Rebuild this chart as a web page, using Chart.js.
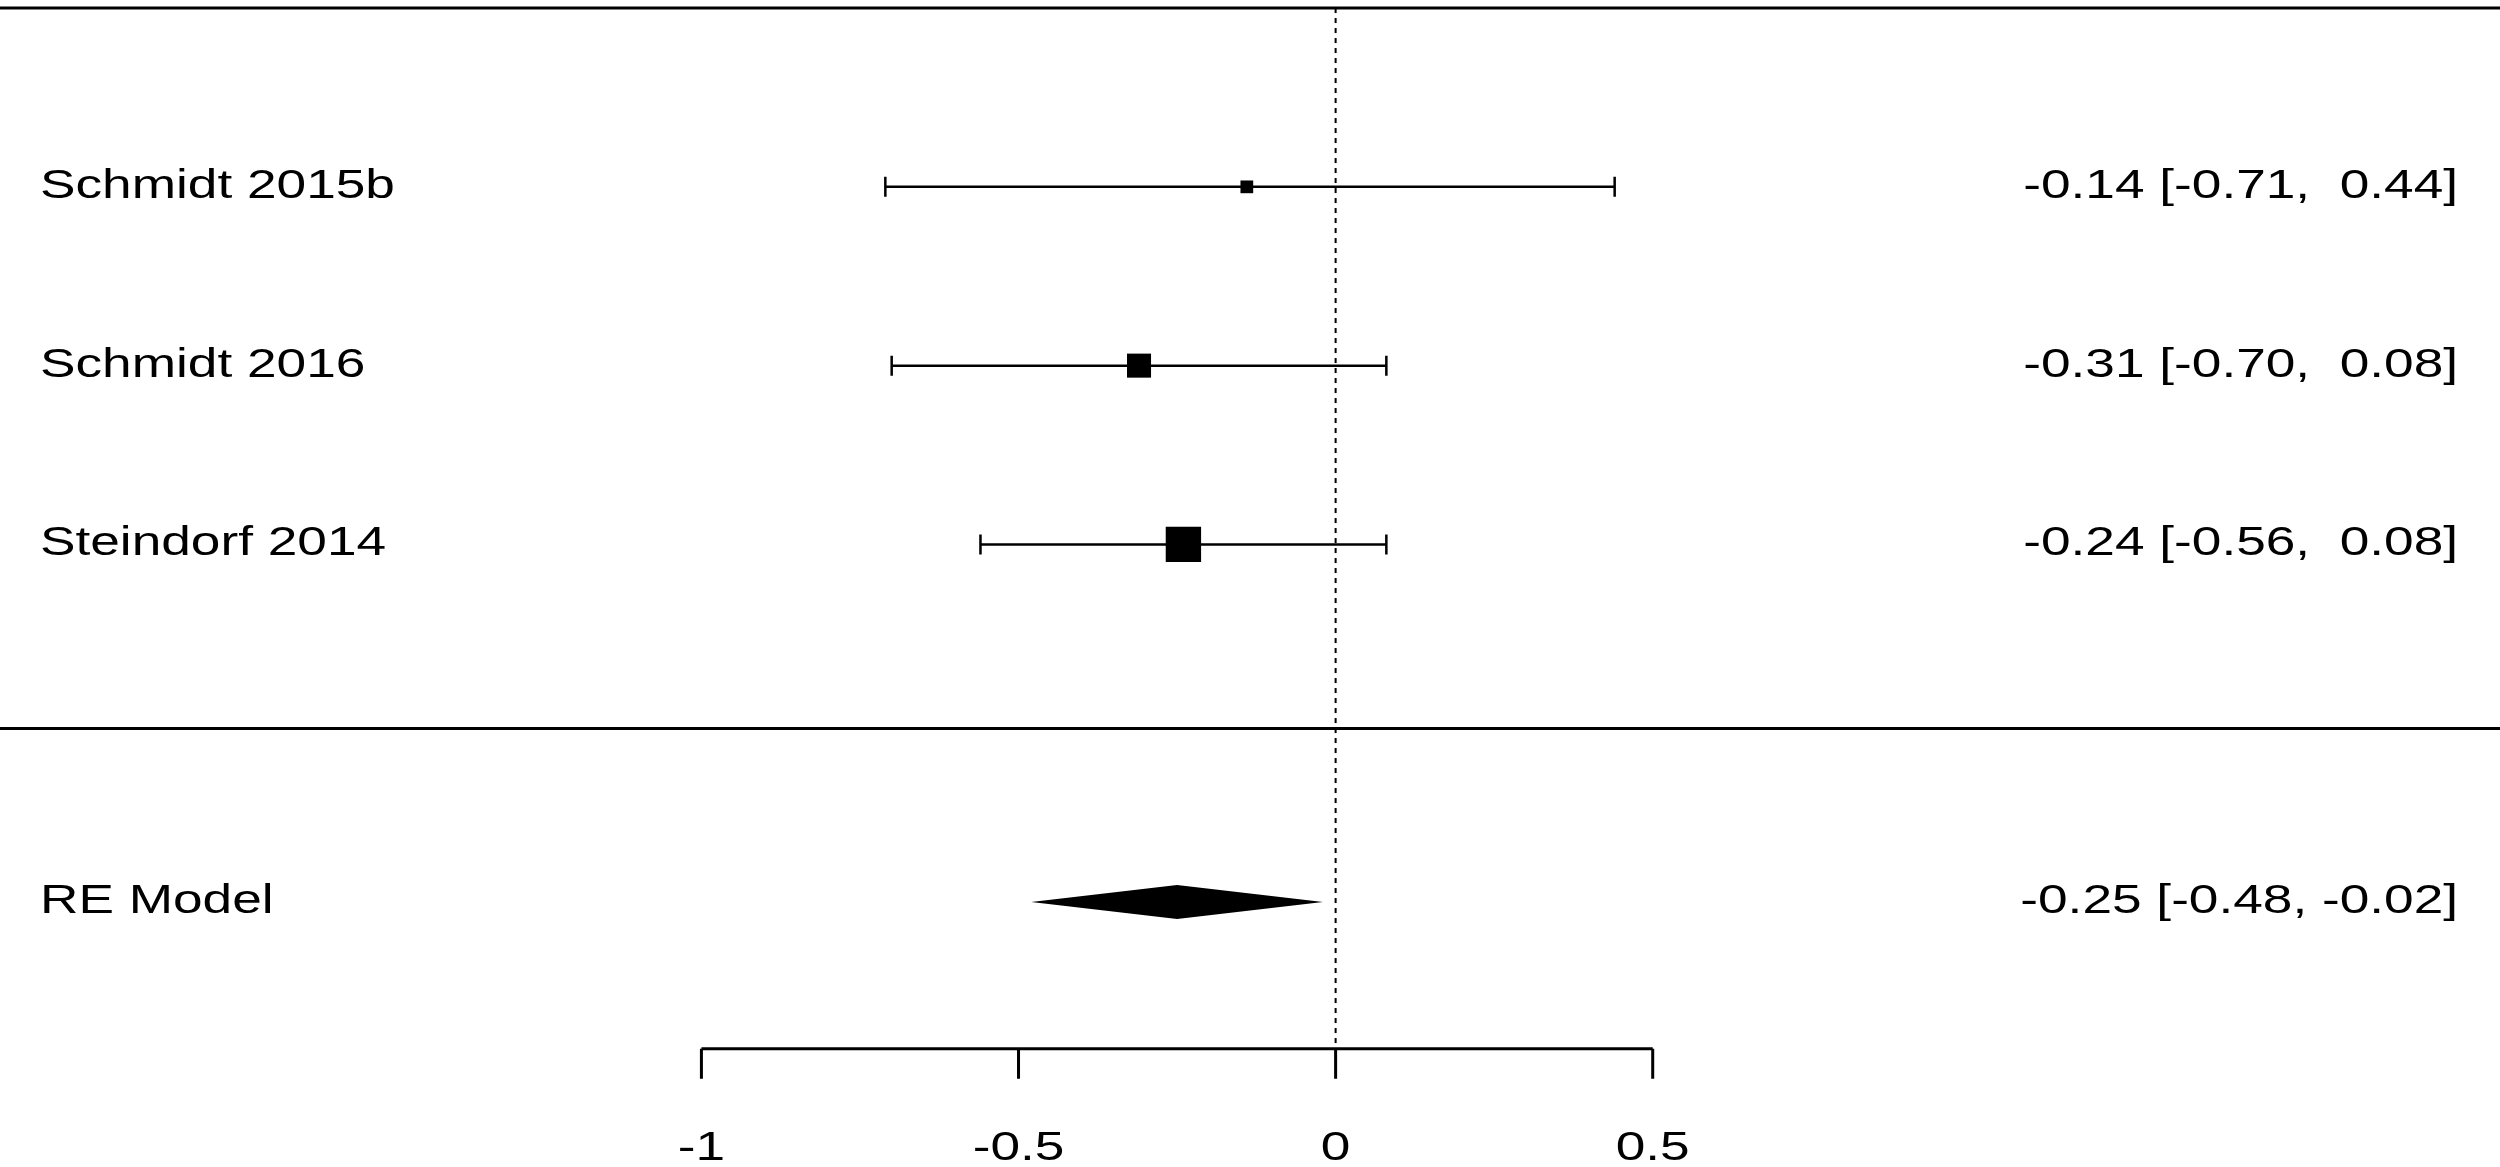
<!DOCTYPE html>
<html><head><meta charset="utf-8">
<script src="https://cdn.jsdelivr.net/npm/chart.js@4"></script>
<style>html,body{margin:0;padding:0;background:#fff}#w{width:2500px;height:1167px}</style>
</head><body><div id="w"><canvas id="c"></canvas></div>
<script>
const studies = ["Schmidt 2015b", "Schmidt 2016", "Steindorf 2014"];
const estimates = [-0.14, -0.31, -0.24];
const lower = [-0.71, -0.70, -0.56];
const upper = [0.44, 0.08, 0.08];
const weights = [9, 17, 25];
const rows = [0, 1, 2];
const model = {label: "RE Model", est: -0.25, lo: -0.48, hi: -0.02, row: 4};
const tickValues = [-1, -0.5, 0, 0.5];
const tickLabels = ["-1", "-0.5", "0", "0.5"];
const fmt = v => (v < 0 ? "-" : " ") + Math.abs(v).toFixed(2);
const ci = (e, l, h) => `${fmt(e).trim()} [${fmt(l)}, ${fmt(h)}]`;
const SX = 1.33;

function txt(ctx, s, px, py, align) {
  ctx.save();
  ctx.translate(px, py); ctx.scale(SX, 1);
  ctx.textAlign = align; ctx.fillText(s, 0, 0);
  ctx.restore();
}

const forest = {
  id: 'forest',
  afterDatasetsDraw(chart) {
    const ctx = chart.ctx, x = chart.scales.x, y = chart.scales.y;
    const W = chart.width;
    ctx.save();
    ctx.strokeStyle = '#000'; ctx.fillStyle = '#000';
    ctx.lineWidth = 3;
    [-1, 3.03].forEach(r => { const py = y.getPixelForValue(r); ctx.beginPath(); ctx.moveTo(0, py); ctx.lineTo(W, py); ctx.stroke(); });
    ctx.lineWidth = 2; ctx.setLineDash([5, 5]);
    ctx.beginPath(); ctx.moveTo(x.getPixelForValue(0), y.getPixelForValue(-1)); ctx.lineTo(x.getPixelForValue(0), y.getPixelForValue(4.82)); ctx.stroke();
    ctx.setLineDash([]);
    ctx.lineWidth = 2.5;
    rows.forEach((r, i) => {
      const py = y.getPixelForValue(r), a = x.getPixelForValue(lower[i]), b = x.getPixelForValue(upper[i]);
      ctx.beginPath(); ctx.moveTo(a, py); ctx.lineTo(b, py);
      ctx.moveTo(a, py - 10); ctx.lineTo(a, py + 10); ctx.moveTo(b, py - 10); ctx.lineTo(b, py + 10); ctx.stroke();
    });
    const my = y.getPixelForValue(model.row);
    ctx.beginPath();
    ctx.moveTo(x.getPixelForValue(model.lo), my);
    ctx.lineTo(x.getPixelForValue(model.est), my - 17);
    ctx.lineTo(x.getPixelForValue(model.hi), my);
    ctx.lineTo(x.getPixelForValue(model.est), my + 17);
    ctx.closePath(); ctx.fill();
    const ay = y.getPixelForValue(4.82);
    ctx.lineWidth = 3;
    ctx.beginPath(); ctx.moveTo(x.getPixelForValue(tickValues[0]), ay); ctx.lineTo(x.getPixelForValue(tickValues[tickValues.length - 1]), ay);
    tickValues.forEach(t => { const px = x.getPixelForValue(t); ctx.moveTo(px, ay); ctx.lineTo(px, ay + 30); });
    ctx.stroke();
    ctx.font = '40px "Liberation Sans", Arial, sans-serif';
    ctx.textBaseline = 'middle';
    tickValues.forEach((t, i) => txt(ctx, tickLabels[i], x.getPixelForValue(t), ay + 100, 'center'));
    const all = studies.map((s, i) => [s, rows[i], ci(estimates[i], lower[i], upper[i])]);
    all.push([model.label, model.row, ci(model.est, model.lo, model.hi)]);
    all.forEach(([s, r, t]) => {
      const py = y.getPixelForValue(r);
      txt(ctx, s, 40, py, 'left');
      txt(ctx, t, 2458, py, 'right');
    });
    ctx.restore();
  }
};

new Chart(document.getElementById('c'), {
  type: 'scatter',
  data: { datasets: [{
    data: rows.map((r, i) => ({x: estimates[i], y: r})),
    pointStyle: 'rect', pointRadius: weights, backgroundColor: '#000', borderColor: '#000', borderWidth: 0
  }]},
  options: {
    responsive: true, maintainAspectRatio: false, animation: false,
    layout: {padding: 0, autoPadding: false},
    plugins: {legend: {display: false}, tooltip: {enabled: false}},
    scales: {
      x: {type: 'linear', min: -2.106, max: 1.836, display: false},
      y: {type: 'linear', min: -1.045, max: 5.482, reverse: true, display: false}
    }
  },
  plugins: [forest]
});
</script></body></html>
